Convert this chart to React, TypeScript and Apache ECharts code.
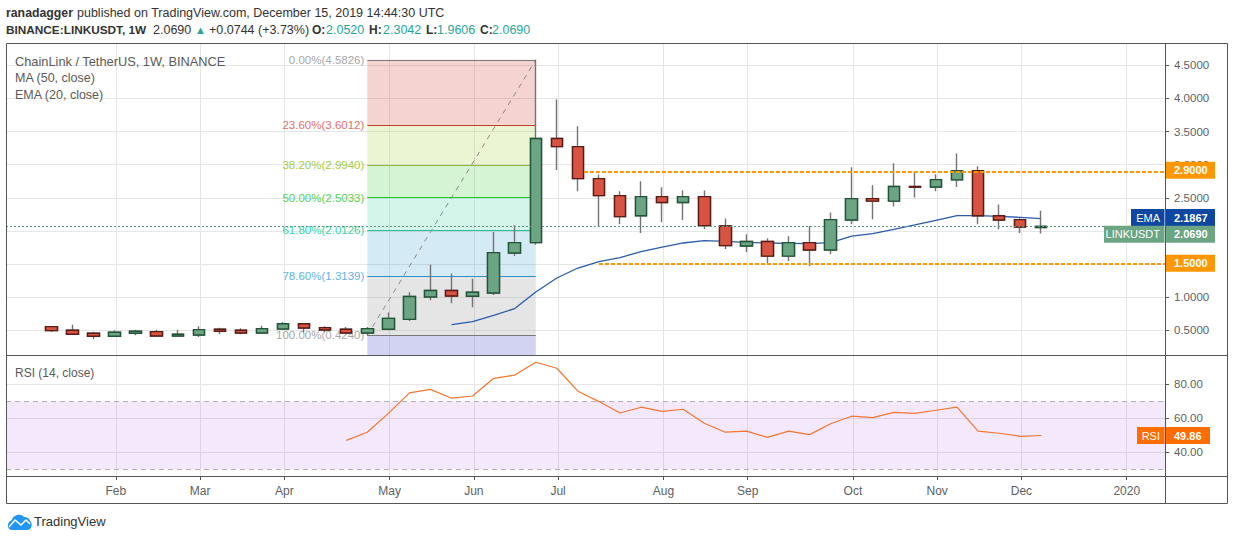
import React, { useEffect, useRef } from "react";
import * as echarts from "echarts";

const weeks = ["2019-01-14","2019-01-21","2019-01-28","2019-02-04","2019-02-11","2019-02-18","2019-02-25","2019-03-04","2019-03-11","2019-03-18","2019-03-25","2019-04-01","2019-04-08","2019-04-15","2019-04-22","2019-04-29","2019-05-06","2019-05-13","2019-05-20","2019-05-27","2019-06-03","2019-06-10","2019-06-17","2019-06-24","2019-07-01","2019-07-08","2019-07-15","2019-07-22","2019-07-29","2019-08-05","2019-08-12","2019-08-19","2019-08-26","2019-09-02","2019-09-09","2019-09-16","2019-09-23","2019-09-30","2019-10-07","2019-10-14","2019-10-21","2019-10-28","2019-11-04","2019-11-11","2019-11-18","2019-11-25","2019-12-02","2019-12-09"];
const opens = [.555,.50,.455,.41,.455,.48,.415,.43,.515,.50,.46,.52,.60,.54,.515,.46,.515,.665,1.003,1.10,1.013,1.063,1.667,1.824,3.394,3.273,2.79,2.533,2.23,2.518,2.43,2.518,2.075,1.773,1.84,1.62,1.824,1.712,2.165,2.488,2.45,2.67,2.663,2.77,2.91,2.23,2.17,2.052];
const closes = [.495,.44,.41,.47,.485,.415,.44,.51,.485,.46,.525,.60,.535,.505,.46,.525,.68,1.01,1.10,1.018,1.074,1.673,1.824,3.394,3.273,2.79,2.533,2.216,2.518,2.43,2.518,2.08,1.778,1.84,1.62,1.824,1.712,2.17,2.488,2.45,2.67,2.66,2.775,2.91,2.23,2.165,2.06,2.069];
const lows = [.475,.43,.37,.40,.425,.41,.405,.40,.445,.44,.46,.51,.47,.47,.44,.42,.50,.64,.953,.907,.847,1.033,1.62,1.793,2.92,2.60,2.06,2.10,1.97,2.13,2.165,2.03,1.727,1.682,1.507,1.546,1.47,1.647,2.10,2.175,2.37,2.505,2.60,2.663,2.10,2.025,1.97,1.9606];
const highs = [.56,.585,.48,.50,.51,.51,.51,.56,.54,.53,.57,.625,.61,.56,.55,.55,.77,1.075,1.49,1.356,1.28,1.984,2.085,4.5826,3.982,3.58,2.85,2.60,2.75,2.66,2.61,2.61,2.186,1.95,1.89,1.92,2.075,2.28,2.96,2.69,3.02,2.90,2.855,3.17,2.975,2.40,2.19,2.3042];
const emaStart = 19;
const emaValues = [.586,.631,.726,.828,1.078,1.289,1.44,1.537,1.597,1.688,1.757,1.818,1.854,1.843,1.828,1.818,1.813,1.809,1.824,1.923,1.96,2.025,2.09,2.16,2.23,2.23,2.22,2.205,2.1867];
const rsiStart = 14;
const rsiValues = [47,51.8,62.9,74.9,77,71.8,73.1,83.5,85.4,92.9,89.4,75.9,69.8,63.1,66.5,64.1,65.3,57.1,51.8,52.4,48.8,52.4,50.4,56.8,61.2,60.4,63.5,62.9,64.7,66.5,52.4,51.2,49.4,49.86];
const fibLevels = [4.5826,3.6012,2.994,2.5033,2.0126,1.3139,0.424];
const fibLabels = ["0.00%(4.5826)","23.60%(3.6012)","38.20%(2.9940)","50.00%(2.5033)","61.80%(2.0126)","78.60%(1.3139)","100.00%(0.4240)"];
const fibLineColors = ["#787878","#c0392b","#8fb83c","#1fc71f","#2bbf9a","#2e8fc9","#787878"];
const fibTextColors = ["#a8a8a8","#e8706a","#a6cf3f","#55d455","#35d6a6","#5fb4e6","#a8a8a8"];
const fibFills = ["rgba(200,35,25,.2)","rgba(155,200,35,.2)","rgba(40,200,40,.2)","rgba(40,205,150,.2)","rgba(40,150,205,.2)","rgba(125,125,125,.2)","rgba(30,30,190,.2)"];
const levelValues = [2.9, 1.5];
const levelStarts = ["2019-07-10", "2019-07-15"];
const priceTicks = [0.5,1,1.5,2,2.5,3,3.5,4,4.5];
const priceTickLabels = [0.5,1,1.5,2.5,3,3.5,4,4.5];
const rsiTicks = [40,60,80];
const timeTicks = ["2019-02-04","2019-03-04","2019-04-01","2019-05-06","2019-06-03","2019-07-01","2019-08-05","2019-09-02","2019-10-07","2019-11-04","2019-12-02","2020-01-06"];
const timeTickLabels = ["Feb","Mar","Apr","May","Jun","Jul","Aug","Sep","Oct","Nov","Dec","2020"];

const FONT = "'Liberation Sans', Arial, sans-serif";
const WEEK = 7 * 864e5;
const T0 = +new Date(weeks[0] + "T00:00:00Z");
const ts = (s: string) => (+new Date(s + "T00:00:00Z") - T0) / WEEK;
const TICK_SHIFT = 0.06;
const xMin = -2.156;
const xMax = 52.877;
const yMin = 0.1272, yMax = 4.8215;
const GRID = "#e6e6e6";
const LINE = "#565656";
const TICK_TEXT = "#5d5f66";
const UP = "#6ba583", DOWN = "#d75442", UP_B = "#225437", DOWN_B = "#5b1a13";
const LOGO = "M6 17 C1 17 0 9 6 7 C7 2 15 0 18 4 C21 4 24 6 24 8 C27 10 26 17 21 17 Z";

function buildOption() {
  const tTicks = timeTicks.map((d) => ts(d) + TICK_SHIFT);
  const tLabel = new Map(tTicks.map((t, i) => [t, timeTickLabels[i]]));
  const commonX = { type: "value", min: xMin, max: xMax, axisLine: { show: false, onZero: false },
    splitLine: { show: true, lineStyle: { color: GRID, width: 1 } }, minorTick: { show: false } };
  const candleData = weeks.map((d, i) => [ts(d), opens[i], closes[i], lows[i], highs[i]]);
  const bodyData = weeks.map((d, i) => [ts(d), opens[i], closes[i], Math.min(opens[i], closes[i]), Math.max(opens[i], closes[i])]);
  const fibAreas = fibLevels.map((v, i) => [
    { coord: [ts(weeks[15]), v], itemStyle: { color: fibFills[i] } },
    { coord: [ts(weeks[23]), i < fibLevels.length - 1 ? fibLevels[i + 1] : yMin] },
  ]);
  const fibLines = fibLevels.map((v, i) => [
    { coord: [ts(weeks[15]), v], lineStyle: { color: fibLineColors[i], width: 1, type: "solid" },
      label: { show: true, position: "start", formatter: fibLabels[i], color: fibTextColors[i], fontFamily: FONT, fontSize: 11.5, distance: 3 } },
    { coord: [ts(weeks[23]), v] },
  ]);
  const levelLines = levelValues.map((v, i) => [
    { coord: [ts(levelStarts[i]), v] },
    { coord: [xMax, v] },
  ]);
  return {
    animation: false,
    backgroundColor: "#fff",
    grid: [
      { left: 6, right: 69, top: 44, height: 311 },
      { left: 6, right: 69, top: 356, height: 120 },
    ],
    xAxis: [
      { ...commonX, gridIndex: 0, axisTick: { show: false, customValues: tTicks }, axisLabel: { show: false } },
      { ...commonX, gridIndex: 1,
        axisTick: { show: true, length: 4, customValues: tTicks, lineStyle: { color: LINE } },
        axisLabel: { show: true, customValues: tTicks, margin: 9, color: TICK_TEXT, fontFamily: FONT, fontSize: 12,
          formatter: (v: number) => tLabel.get(v) ?? "" } },
    ],
    yAxis: [
      { type: "value", gridIndex: 0, position: "right", min: yMin, max: yMax,
        axisLine: { show: false, onZero: false },
        axisTick: { show: true, length: 4, customValues: priceTicks, lineStyle: { color: LINE } },
        splitLine: { show: true, lineStyle: { color: GRID, width: 1 } },
        axisLabel: { customValues: priceTickLabels, margin: 9, color: TICK_TEXT, fontFamily: FONT, fontSize: 11.5, formatter: (v: number) => v.toFixed(4) } },
      { type: "value", gridIndex: 1, position: "right", min: 26.06, max: 96.6,
        axisLine: { show: false, onZero: false },
        axisTick: { show: true, length: 4, customValues: rsiTicks, lineStyle: { color: LINE } },
        splitLine: { show: true, lineStyle: { color: GRID, width: 1 } },
        axisLabel: { customValues: rsiTicks, margin: 9, color: TICK_TEXT, fontFamily: FONT, fontSize: 11.5, formatter: (v: number) => v.toFixed(2) } },
    ],
    series: [
      { type: "line", name: "Fib", xAxisIndex: 0, yAxisIndex: 0, z: 1, silent: true, symbol: "none",
        data: [[ts(weeks[15]), fibLevels[6]], [ts(weeks[23]), fibLevels[0]]],
        lineStyle: { color: "#8a8a8a", width: 1, type: [5, 5] },
        markArea: { silent: true, z: 1, data: fibAreas },
        markLine: { silent: true, z: 2, symbol: "none", precision: 6, data: fibLines } },
      { type: "line", name: "EMA", xAxisIndex: 0, yAxisIndex: 0, z: 3, symbol: "none", showSymbol: false,
        data: emaValues.map((v, i) => [ts(weeks[emaStart + i]), v]),
        lineStyle: { color: "#2a5caa", width: 1.3 } },
      { type: "candlestick", name: "Wicks", xAxisIndex: 0, yAxisIndex: 0, z: 4, barWidth: 12, data: candleData,
        itemStyle: { color: "#737375", color0: "#737375", borderColor: "#737375", borderColor0: "#737375", borderWidth: 1.4 } },
      { type: "candlestick", name: "Bodies", xAxisIndex: 0, yAxisIndex: 0, z: 5, barWidth: 12, data: bodyData,
        itemStyle: { color: UP, color0: DOWN, borderColor: UP_B, borderColor0: DOWN_B, borderWidth: 1.4 } },
      { type: "line", name: "Levels", xAxisIndex: 0, yAxisIndex: 0, z: 6, symbol: "none", data: [],
        markLine: { silent: true, z: 6, symbol: "none", label: { show: false }, precision: 6,
          lineStyle: { color: "#ff9800", width: 2, type: [4, 2] }, data: levelLines } },
      { type: "line", name: "Last", xAxisIndex: 0, yAxisIndex: 0, z: 6, symbol: "none", data: [],
        markLine: { silent: true, z: 6, symbol: "none", label: { show: false }, precision: 6,
          lineStyle: { color: "#5f9a7c", width: 1, type: [2, 2] },
          data: [[{ coord: [xMin, closes[47]] }, { coord: [xMax, closes[47]] }]] } },
      { type: "line", name: "RSI", xAxisIndex: 1, yAxisIndex: 1, z: 5, symbol: "none",
        data: rsiValues.map((v, i) => [ts(weeks[rsiStart + i]), v]),
        lineStyle: { color: "#f5762c", width: 1.2 },
        markArea: { silent: true, z: 1, itemStyle: { color: "rgba(150,40,240,.105)" },
          data: [[{ coord: [xMin, 70] }, { coord: [xMax, 30] }]] },
        markLine: { silent: true, z: 2, symbol: "none", label: { show: false },
          lineStyle: { color: "#b4acb8", width: 1, type: [5, 4] },
          data: [[{ coord: [xMin, 70] }, { coord: [xMax, 70] }], [{ coord: [xMin, 30] }, { coord: [xMax, 30] }]] } },
    ],
  };
}

function text(x: number, y: number, t: string, fill: string, extra: any = {}) {
  return { type: "text", x, y, z: 50, silent: true,
    style: { text: t, fill, fontFamily: FONT, fontSize: 12, verticalAlign: "middle", ...extra } };
}
function rect(x: number, y: number, w: number, h: number, fill: string) {
  return { type: "rect", shape: { x, y, width: w, height: h }, z: 48, silent: true, style: { fill } };
}
function tag(y: number, color: string, value: string, name?: string, nameLeft?: number, right = 1215) {
  const top = y - 8.5;
  const out: any[] = [rect(1166, top, right - 1166, 17, color), text(1174, y, value, "#fff", { fontWeight: "bold", fontSize: 11 })];
  if (name && nameLeft) {
    out.push(rect(nameLeft, top, 1164.5 - nameLeft, 17, color));
    out.push(text(1160, y, name, "#fff", { align: "right", fontSize: 11 }));
  }
  return out;
}

export default function App() {
  const ref = useRef<HTMLDivElement>(null);
  useEffect(() => {
    document.body.style.margin = "0";
    echarts.graphic.registerShape("tvlogo", echarts.graphic.extendPath(LOGO, {}) as any);
    const chart = echarts.init(ref.current!, undefined, { renderer: "svg" });
    chart.setOption(buildOption() as any);
    const py = (v: number) => chart.convertToPixel({ xAxisIndex: 0, yAxisIndex: 0 } as any, [xMin, v])[1];
    const ry = (v: number) => chart.convertToPixel({ xAxisIndex: 1, yAxisIndex: 1 } as any, [xMin, v])[1];
    const teal = "#26a69a", dark = "#333";
    const HEAD = { fontSize: 12.5 };
    const HEADB = { fontSize: 12, fontWeight: "bold" };
    const elements: any[] = [
      { type: "rect", shape: { x: 6.5, y: 43.5, width: 1221, height: 460 }, z: 40, silent: true, style: { fill: "none", stroke: LINE, lineWidth: 1 } },
      { type: "line", shape: { x1: 6, y1: 355.5, x2: 1228, y2: 355.5 }, z: 40, silent: true, style: { stroke: LINE, lineWidth: 1 } },
      { type: "line", shape: { x1: 6, y1: 476.5, x2: 1228, y2: 476.5 }, z: 40, silent: true, style: { stroke: LINE, lineWidth: 1 } },
      { type: "line", shape: { x1: 1165.5, y1: 43, x2: 1165.5, y2: 504 }, z: 40, silent: true, style: { stroke: LINE, lineWidth: 1 } },
      text(6, 12.5, "ranadagger", dark, { fontSize: 12.3, fontWeight: "bold" }),
      text(77, 12.5, "published on TradingView.com, December 15, 2019 14:44:30 UTC", dark, HEAD),
      text(6, 30, "BINANCE:LINKUSDT, 1W", dark, { fontSize: 11.8, fontWeight: "bold" }),
      text(153, 30, "2.0690", dark, HEAD),
      text(195, 30, "\u25B2", teal, { fontSize: 11 }),
      text(209, 30, "+0.0744 (+3.73%)", dark, HEAD),
      text(312, 30, "O:", dark, HEADB),
      text(326, 30, "2.0520", teal, HEAD),
      text(369, 30, "H:", dark, HEADB),
      text(383, 30, "2.3042", teal, HEAD),
      text(426, 30, "L:", dark, HEADB),
      text(437, 30, "1.9606", teal, HEAD),
      text(480, 30, "C:", dark, HEADB),
      text(492, 30, "2.0690", teal, HEAD),
      text(15, 61, "ChainLink / TetherUS, 1W, BINANCE", "#5a5a5a", { fontSize: 12.8 }),
      text(15, 78, "MA (50, close)", "#5a5a5a", { fontSize: 12.5 }),
      text(15, 95, "EMA (20, close)", "#5a5a5a", { fontSize: 12.5 }),
      text(15, 373, "RSI (14, close)", "#5a5a5a", { fontSize: 12 }),
      ...tag(py(levelValues[0]) - 1, "#ff9800", "2.9000"),
      ...tag(py(levelValues[1]) - 0.7, "#ff9800", "1.5000"),
      ...tag(py(emaValues[emaValues.length - 1]) - 1, "#0d47a1", "2.1867", "EMA", 1131),
      ...tag(py(closes[47]) + 8, UP, "2.0690", "LINKUSDT", 1104),
      ...tag(ry(rsiValues[rsiValues.length - 1]), "#ff6d00", "49.86", "RSI", 1137, 1210),
      { type: "tvlogo", x: 6, y: 513, z: 50, silent: true, style: { fill: "#2196f3" } },
      { type: "polyline", x: 6, y: 513, z: 51, silent: true, shape: { points: [[3, 14], [9, 7], [15, 12], [20, 7], [24, 11]] }, style: { stroke: "#fff", fill: "none", lineWidth: 1.5 } },
      text(34, 521.5, "TradingView", "#333", { fontSize: 13 }),
    ];
    chart.setOption({ graphic: { elements } } as any);
    return () => chart.dispose();
  }, []);
  return <div ref={ref} style={{ position: "fixed", left: 0, top: 0, width: 1234, height: 540, background: "#fff" }} />;
}
